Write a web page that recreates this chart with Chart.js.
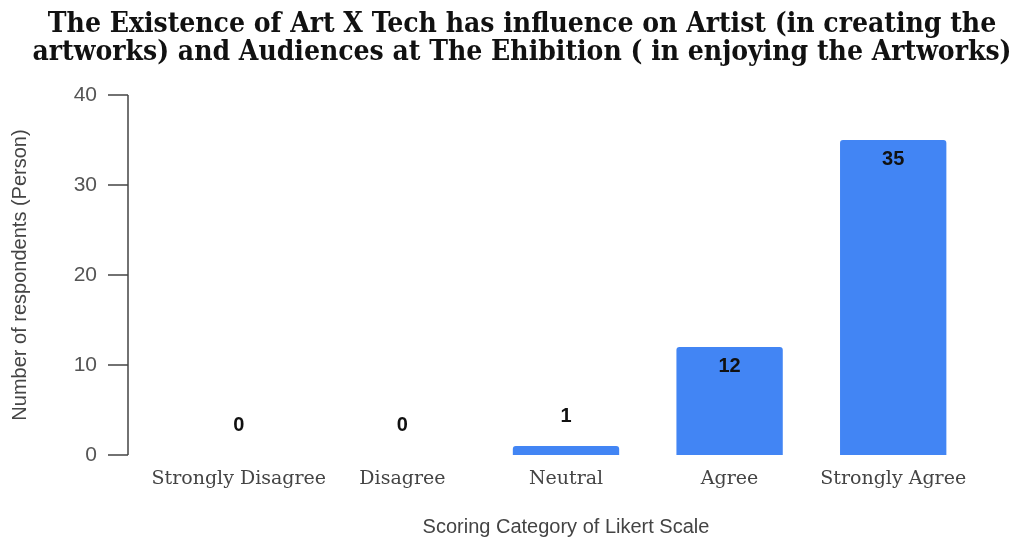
<!DOCTYPE html>
<html>
<head>
<meta charset="utf-8">
<script src="https://cdn.jsdelivr.net/npm/chart.js@4.4.1/dist/chart.umd.min.js"></script>
<style>
  html, body { margin: 0; padding: 0; background: #fff; }
  #wrap { width: 1016px; height: 537px; }
</style>
</head>
<body>
<div id="wrap"><canvas id="chart"></canvas></div>
<script>
//categories on the Likert scale
const categories = ['Strongly Disagree', 'Disagree', 'Neutral', 'Agree', 'Strongly Agree'];
//number of respondents per category
const respondents = [0, 0, 1, 12, 35];
//y axis ticks
const yTicks = [0, 10, 20, 30, 40];

const titleLines = [
  'The Existence of Art X Tech has influence on Artist (in creating the',
  'artworks) and Audiences at The Ehibition ( in enjoying the Artworks)'
];

//draws the y axis line a bit left of the plot, with its tick marks
const detachedAxis = {
  id: 'detachedAxis',
  afterDraw(chart) {
    const ctx = chart.ctx;
    const y = chart.scales.y;
    const x = chart.chartArea.left - 29;
    ctx.save();
    ctx.strokeStyle = '#444';
    ctx.lineWidth = 1.5;
    ctx.beginPath();
    ctx.moveTo(x, y.getPixelForValue(yTicks[yTicks.length - 1]));
    ctx.lineTo(x, y.getPixelForValue(yTicks[0]));
    yTicks.forEach(t => {
      const py = y.getPixelForValue(t);
      ctx.moveTo(x - 20, py);
      ctx.lineTo(x, py);
    });
    ctx.stroke();
    ctx.restore();
  }
};

//value labels: inside the top of tall bars, above short ones
const barLabels = {
  id: 'barLabels',
  afterDatasetsDraw(chart) {
    const ctx = chart.ctx;
    const meta = chart.getDatasetMeta(0);
    ctx.save();
    ctx.font = 'bold 20px "Liberation Sans", Arial, sans-serif';
    ctx.fillStyle = '#111';
    ctx.textAlign = 'center';
    ctx.textBaseline = 'middle';
    meta.data.forEach((bar, i) => {
      const v = respondents[i];
      const ly = v >= 5 ? bar.y + 19 : bar.y - 30;
      ctx.fillText(String(v), bar.x, ly);
    });
    ctx.restore();
  }
};

const ctx = document.getElementById('chart').getContext('2d');
new Chart(ctx, {
  type: 'bar',
  data: {
    labels: categories,
    datasets: [{
      label: 'Respondents',
      data: respondents,
      backgroundColor: '#4285F4',
      borderRadius: { topLeft: 3, topRight: 3 },
      borderSkipped: 'bottom',
      barPercentage: 0.65,
      categoryPercentage: 1.0
    }]
  },
  options: {
    responsive: true,
    maintainAspectRatio: false,
    animation: false,
    // left padding keeps the title centred like the original
    layout: { padding: { left: 28, right: 0, top: 0, bottom: 0 } },
    plugins: {
      legend: { display: false },
      tooltip: { enabled: false },
      title: {
        display: true,
        text: titleLines,
        color: '#111',
        font: { family: '"DejaVu Serif Condensed", "DejaVu Serif", serif', size: 28, weight: 'bold', lineHeight: 1.0 },
        padding: { top: 11, bottom: 28 }
      }
    },
    scales: {
      x: {
        afterFit(scale) { scale.height = 82; },
        grid: { display: false, drawTicks: false },
        border: { display: false },
        ticks: {
          color: '#444',
          padding: 13,
          maxRotation: 0,
          minRotation: 0,
          autoSkip: false,
          font: { family: '"DejaVu Serif", serif', size: 19 }
        },
        title: {
          display: true,
          text: 'Scoring Category of Likert Scale',
          color: '#444',
          font: { family: '"Liberation Sans", Arial, sans-serif', size: 20 },
          padding: { top: 0, bottom: -2 }
        }
      },
      y: {
        min: 0,
        max: 40,
        afterFit(scale) { scale.width = 129; },
        grid: { display: false, drawTicks: false },
        border: { display: false },
        ticks: {
          stepSize: 10,
          color: '#555',
          padding: 60,
          font: { family: '"Liberation Sans", Arial, sans-serif', size: 21 }
        },
        title: {
          display: true,
          text: 'Number of respondents (Person)',
          color: '#444',
          font: { family: '"Liberation Sans", Arial, sans-serif', size: 20 },
          padding: { top: -20, bottom: 0 }
        }
      },
      // empty right-hand spacer so the plot ends where the original does
      spacer: {
        type: 'linear',
        position: 'right',
        afterFit(scale) { scale.width = 41; },
        grid: { display: false },
        border: { display: false },
        ticks: { display: false }
      }
    }
  },
  plugins: [detachedAxis, barLabels]
});
</script>
</body>
</html>
